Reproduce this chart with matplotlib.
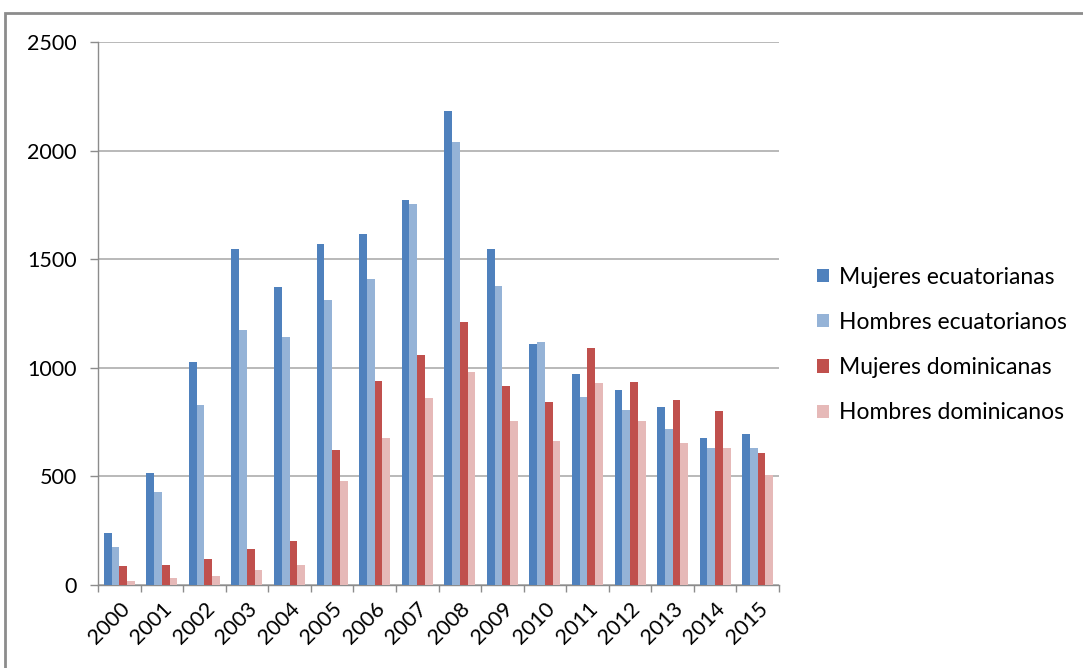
import numpy as np
import matplotlib.pyplot as plt
from matplotlib.patches import Rectangle

plt.rcParams['font.family'] = ['Lato', 'DejaVu Sans']

years = [str(y) for y in range(2000, 2016)]
mujeres_ec = [239, 514, 1025, 1547, 1371, 1568, 1614, 1772, 2181, 1546, 1108, 973, 899, 821, 675, 697]
hombres_ec = [175, 429, 828, 1176, 1144, 1311, 1411, 1755, 2041, 1378, 1120, 866, 804, 720, 629, 629]
mujeres_dom = [86, 92, 120, 166, 204, 620, 939, 1057, 1209, 918, 844, 1092, 933, 850, 799, 606]
hombres_dom = [18, 31, 41, 71, 92, 480, 676, 861, 979, 754, 665, 929, 753, 652, 629, 507]

series = [
    ("Mujeres ecuatorianas", mujeres_ec, "#4F81BD"),
    ("Hombres ecuatorianos", hombres_ec, "#95B3D7"),
    ("Mujeres dominicanas", mujeres_dom, "#C0504D"),
    ("Hombres dominicanos", hombres_dom, "#E6B9B8"),
]

fig = plt.figure(figsize=(10.83, 6.68), dpi=100)
ax = fig.add_axes([98 / 1083, 1 - 585 / 668, 681 / 1083, 543 / 668])

x = np.arange(len(years))
w = 0.182
for i, (name, vals, col) in enumerate(series):
    ax.bar(x + (i - 1.5) * w, vals, width=w, color=col, label=name, zorder=3)

ax.set_xlim(-0.5, len(years) - 0.5)
ax.set_ylim(0, 2500)
ax.set_yticks(range(0, 2501, 500))
ax.yaxis.grid(True, color="#a6a6a6", linewidth=1.1, zorder=0)

# category labels in the middle, tick marks on the boundaries
ax.set_xticks(x)
ax.set_xticklabels(years, rotation=45, ha="right", rotation_mode="anchor")
ax.set_xticks(np.arange(-0.5, len(years)), minor=True)
ax.tick_params(axis="x", which="major", length=0, pad=10, labelsize=15.5)
ax.tick_params(axis="x", which="minor", length=5, color="#8c8c8c", width=1)
ax.tick_params(axis="y", length=5.8, color="#8c8c8c", width=1, labelsize=15.5, pad=9.5)

for s in ("top", "right"):
    ax.spines[s].set_visible(False)
ax.spines["left"].set_color("#8c8c8c")
ax.spines["bottom"].set_color("#8c8c8c")
ax.spines["left"].set_linewidth(1)
ax.spines["bottom"].set_linewidth(1)

fig.legend(loc="center left", bbox_to_anchor=(796 / 1083, 1 - 345 / 668),
           frameon=False, fontsize=16.5, handlelength=0.52, handleheight=0.52,
           handletextpad=0.45, labelspacing=1.06)

# outer chart border
fig.patches.append(Rectangle((5 / 1083, -0.1), 1.2, 1 - 13 / 668 + 0.1,
                             transform=fig.transFigure, fill=False,
                             edgecolor="#8c8c8c", linewidth=2, clip_on=False))

fig.savefig("out.png", dpi=100)
